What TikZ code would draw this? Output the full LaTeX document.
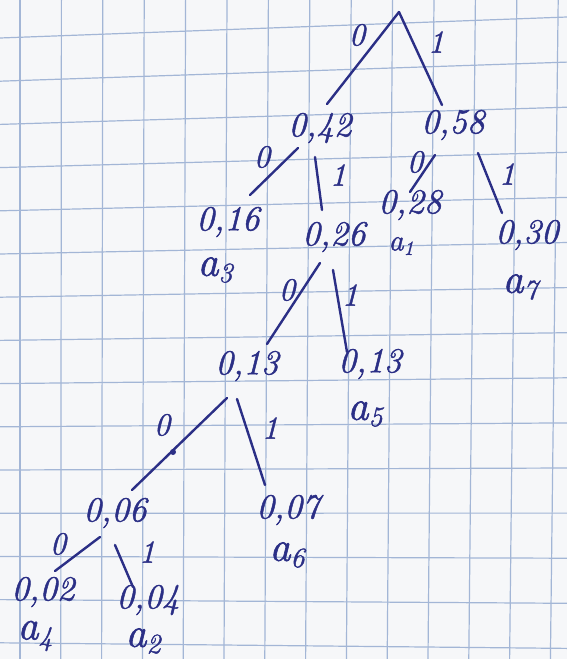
\documentclass[tikz,border=0pt]{standalone}
\usepackage{fontspec}
\setmainfont{Latin Modern Roman}[FakeBold=1.4]
\definecolor{ink}{HTML}{2B2F86}
\definecolor{gridc}{HTML}{A3B6D6}
\definecolor{paper}{HTML}{F6F7F9}
\newcommand{\symb}[1]{a\raisebox{-0.35ex}{\fontsize{28}{30}\selectfont #1}}
\newcommand{\symbsmall}[1]{a\raisebox{-0.35ex}{\fontsize{20}{22}\selectfont #1}}
\begin{document}
\begin{tikzpicture}[x=1pt,y=-1pt,
  num/.style={text=ink,font=\fontsize{35}{38}\selectfont\itshape,inner sep=0pt},
  bit/.style={text=ink,font=\fontsize{32}{34}\selectfont\itshape,inner sep=0pt},
  sym/.style={text=ink,font=\fontsize{42}{44}\selectfont\itshape,inner sep=0pt},
  smallsym/.style={text=ink,font=\fontsize{30}{32}\selectfont\itshape,inner sep=0pt},
  branch/.style={draw=ink,line width=2.4pt,line cap=round},
  gridline/.style={draw=gridc,line width=1.2pt}]
\useasboundingbox (0,0) rectangle (567,659);
\fill[paper] (0,0) rectangle (567,659);
\begin{scope}
  \clip (0,0) rectangle (567,659);
  \foreach \k in {-1,...,15} \draw[gridline] (0,{38+43.2*\k}) -- (567,{17+45.1*\k});
  \foreach \j in {0,...,14} \draw[gridline] ({20+41.4*\j},0) -- ({20+40.8*\j},659);
\end{scope}

% nodes
\coordinate (root) at (399,12);
\node[num] (n042) at (320,128) {0,42};
\node[num] (n058) at (453,125) {0,58};
\node[num] (n016) at (228,222) {0,16};
\node[num] (n026) at (334,237) {0,26};
\node[num] (n028) at (410,205) {0,28};
\node[num] (n030) at (527,235) {0,30};
\node[num] (n013l) at (247,366) {0,13};
\node[num] (n013r) at (370,364) {0,13};
\node[num] (n006) at (115,513) {0,06};
\node[num] (n007) at (288,510) {0,07};
\node[num] (n002) at (43,592) {0,02};
\node[num] (n004) at (148,600) {0,04};

% symbols
\node[smallsym] (s1) at (401,246) {\symbsmall{1}};
\node[sym] (s3) at (215,270) {\symb{3}};
\node[sym] (s7) at (520,287) {\symb{7}};
\node[sym] (s5) at (365,414) {\symb{5}};
\node[sym] (s6) at (287,555) {\symb{6}};
\node[sym] (s4) at (35,636) {\symb{4}};
\node[sym] (s2) at (143,641) {\symb{2}};

% branches
\draw[branch] (root) -- ([shift={(7,-24)}]n042.center);
\draw[branch] (root) -- ([shift={(-11,-20)}]n058.center);
\draw[branch] ([shift={(-22,20)}]n042.center) -- ([shift={(22,-27)}]n016.center);
\draw[branch] ([shift={(-5,29)}]n042.center) -- ([shift={(-12,-27)}]n026.center);
\draw[branch] ([shift={(-18,30)}]n058.center) -- ([shift={(0,-13)}]n028.center);
\draw[branch] ([shift={(25,28)}]n058.center) -- ([shift={(-25,-22)}]n030.center);
\draw[branch] ([shift={(-14,26)}]n026.center) -- ([shift={(20,-22)}]n013l.center);
\draw[branch] ([shift={(-1,33)}]n026.center) -- ([shift={(-23,-12)}]n013r.center);
\draw[branch] ([shift={(-20,32)}]n013l.center) -- ([shift={(17,-23)}]n006.center);
\draw[branch] ([shift={(-10,33)}]n013l.center) -- ([shift={(-23,-25)}]n007.center);
\draw[branch] ([shift={(-15,24)}]n006.center) -- ([shift={(12,-21)}]n002.center);
\draw[branch] ([shift={(0,32)}]n006.center) -- ([shift={(-15,-13)}]n004.center);
\fill[ink] (173,452) circle (3);

% bit labels
\node[bit] (b0) at (357,35) {0};
\node[bit] (b1) at (436,42) {1};
\node[bit] (b2) at (262,157) {0};
\node[bit] (b3) at (338,175) {1};
\node[bit] (b4) at (415,162) {0};
\node[bit] (b5) at (507,174) {1};
\node[bit] (b6) at (287,290) {0};
\node[bit] (b7) at (350,295) {1};
\node[bit] (b8) at (162,425) {0};
\node[bit] (b9) at (270,428) {1};
\node[bit] (b10) at (58,544) {0};
\node[bit] (b11) at (147,552) {1};
\end{tikzpicture}
\end{document}
